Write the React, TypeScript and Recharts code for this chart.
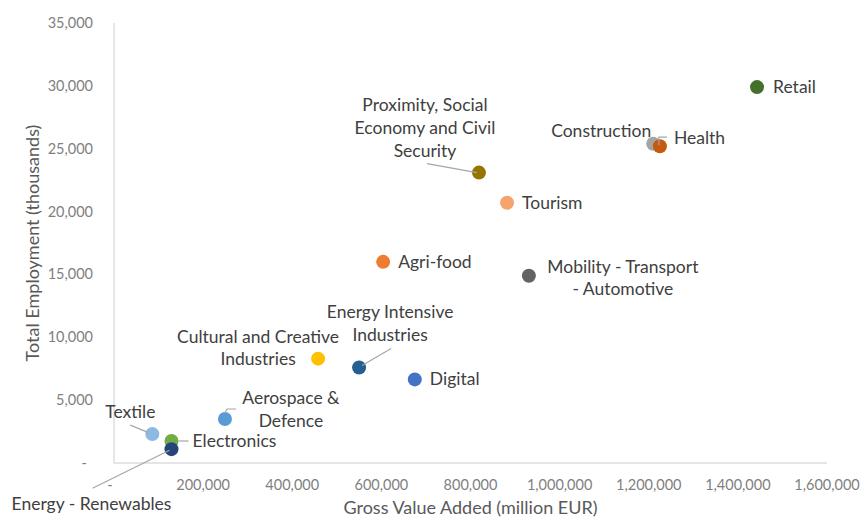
import React from 'react';
import { ScatterChart, Scatter, XAxis, YAxis, Label } from 'recharts';

// drawing order matters: later points sit on top of earlier ones
const sectors = [
  'Retail',
  'Construction',
  'Health',
  'Proximity, Social Economy and Civil Security',
  'Tourism',
  'Agri-food',
  'Mobility - Transport - Automotive',
  'Cultural and Creative Industries',
  'Energy Intensive Industries',
  'Digital',
  'Aerospace & Defence',
  'Textile',
  'Electronics',
  'Energy - Renewables',
];
const gvaMillionEur = [
  1443000, 1210000, 1225000, 819000, 882000, 604000, 931000, 458000, 550000,
  675000, 249000, 86000, 129000, 129000,
];
const employmentThousands = [
  29900, 25400, 25200, 23100, 20700, 16000, 14900, 8300, 7600, 6650, 3500,
  2300, 1750, 1100,
];
const xTicks = [0, 200000, 400000, 600000, 800000, 1000000, 1200000, 1400000, 1600000];
const yTicks = [0, 5000, 10000, 15000, 20000, 25000, 30000, 35000];

const pointColors = [
  '#43702b', '#a5a5a5', '#c55a11', '#997300', '#f4a46c', '#ed7d31', '#636363',
  '#ffc000', '#255e91', '#4472c4', '#5b9bd5', '#8db8e3', '#70ad47', '#264478',
];

type LabelSpec = {
  lines: string[];
  dx: number;
  dy: number[];
  anchor: 'start' | 'middle' | 'end';
  leader?: [number, number][];
};

// label placement relative to each point centre
const labelLayout: Record<string, LabelSpec> = {
  Retail: { lines: ['Retail'], dx: 16, dy: [0], anchor: 'start' },
  Construction: { lines: ['Construction'], dx: -2, dy: [-13], anchor: 'end' },
  Health: {
    lines: ['Health'], dx: 14, dy: [-8], anchor: 'start',
    leader: [[-1, -1], [-1, -9], [7, -9]],
  },
  'Proximity, Social Economy and Civil Security': {
    lines: ['Proximity, Social', 'Economy and Civil', 'Security'],
    dx: -54, dy: [-68, -45, -22], anchor: 'middle',
    leader: [[-52, -9], [-2, 0]],
  },
  Tourism: { lines: ['Tourism'], dx: 15, dy: [0], anchor: 'start' },
  'Agri-food': { lines: ['Agri-food'], dx: 15, dy: [0], anchor: 'start' },
  'Mobility - Transport - Automotive': {
    lines: ['Mobility - Transport', '- Automotive'], dx: 94, dy: [-9, 13], anchor: 'middle',
  },
  'Cultural and Creative Industries': {
    lines: ['Cultural and Creative', 'Industries'], dx: -60, dy: [-22, 0], anchor: 'middle',
  },
  'Energy Intensive Industries': {
    lines: ['Energy Intensive', 'Industries'], dx: 31, dy: [-55, -32], anchor: 'middle',
    leader: [[32, -19], [3, -2]],
  },
  Digital: { lines: ['Digital'], dx: 15, dy: [0], anchor: 'start' },
  'Aerospace & Defence': {
    lines: ['Aerospace &', 'Defence'], dx: 66, dy: [-21, 2], anchor: 'middle',
    leader: [[0, -6], [2, -10], [11, -10]],
  },
  Textile: {
    lines: ['Textile'], dx: -22, dy: [-22], anchor: 'middle',
    leader: [[-22, -9], [-5, -2]],
  },
  Electronics: {
    lines: ['Electronics'], dx: 21, dy: [0], anchor: 'start',
    leader: [[7, 0], [17, 0]],
  },
  'Energy - Renewables': {
    lines: ['Energy - Renewables'], dx: -80, dy: [55], anchor: 'middle',
    leader: [[-2, 1], [-79, 39]],
  },
};

const rows = sectors.map((name, i) => ({
  name,
  gva: gvaMillionEur[i],
  emp: employmentThousands[i],
  color: pointColors[i],
}));

const FONT = 'Lato, "Open Sans", sans-serif';
const fmt = (v: number) => v.toLocaleString('en-US');

const Dot = (props: any) => {
  const { cx, cy, payload } = props;
  return <circle cx={cx} cy={cy} r={7} fill={payload.color} />;
};

const SectorLabel = (props: any) => {
  const { cx, cy, payload } = props;
  const spec = labelLayout[payload.name];
  if (!spec) return <g />;
  return (
    <g>
      {spec.leader && (
        <polyline
          points={spec.leader.map(([dx, dy]) => `${cx + dx},${cy + dy}`).join(' ')}
          fill="none"
          stroke="#a6a6a6"
          strokeWidth={1.2}
        />
      )}
      <text textAnchor={spec.anchor} fontSize={17.5} fill="#404040" fontFamily={FONT}>
        {spec.lines.map((line, i) => (
          <tspan key={i} x={cx + spec.dx} y={cy + spec.dy[i] + 6}>
            {line}
          </tspan>
        ))}
      </text>
    </g>
  );
};

const XTick = (props: any) => {
  const { x, y, payload } = props;
  const v = payload.value as number;
  return (
    <text x={v === 0 ? x - 4 : x} y={y} textAnchor="middle" fontSize={14.5} fill="#7f7f7f" fontFamily={FONT}>
      {v === 0 ? '-' : fmt(v)}
    </text>
  );
};

const YTick = (props: any) => {
  const { x, y, payload } = props;
  const v = payload.value as number;
  return (
    <text x={v === 0 ? x - 6 : x} y={y + 5} textAnchor="end" fontSize={14.5} fill="#7f7f7f" fontFamily={FONT}>
      {v === 0 ? '-' : fmt(v)}
    </text>
  );
};

const XTitle = (props: any) => {
  const { x, y, width, height } = props.viewBox;
  return (
    <text x={x + width / 2} y={y + height + 21} textAnchor="middle" fontSize={18} fill="#595959" fontFamily={FONT}>
      Gross Value Added (million EUR)
    </text>
  );
};

const YTitle = (props: any) => {
  const { y, height } = props.viewBox;
  const cx = 32;
  const cy = y + height / 2;
  return (
    <text
      x={cx}
      y={cy}
      transform={`rotate(-90, ${cx}, ${cy})`}
      textAnchor="middle"
      dominantBaseline="central"
      fontSize={18}
      fill="#595959"
      fontFamily={FONT}
    >
      Total Employment (thousands)
    </text>
  );
};

export default function App() {
  return (
    <div style={{ position: 'absolute', left: 0, top: 0, width: 863, height: 518, background: '#fff' }}>
      <ScatterChart width={863} height={518} margin={{ top: 23, right: 36, bottom: 25, left: 0 }}>
        <XAxis
          type="number"
          dataKey="gva"
          domain={[0, 1600000]}
          ticks={xTicks}
          interval={0}
          height={30}
          tickSize={0}
          tickMargin={27}
          tickLine={false}
          axisLine={{ stroke: '#cccccc' }}
          tick={<XTick />}
        >
          <Label content={<XTitle />} />
        </XAxis>
        <YAxis
          type="number"
          dataKey="emp"
          domain={[0, 35000]}
          ticks={yTicks}
          interval={0}
          width={114}
          tickSize={0}
          tickMargin={21}
          tickLine={false}
          axisLine={{ stroke: '#cccccc' }}
          tick={<YTick />}
        >
          <Label content={<YTitle />} />
        </YAxis>
        <Scatter data={rows} shape={<Dot />} isAnimationActive={false} />
        <Scatter data={rows} shape={<SectorLabel />} isAnimationActive={false} />
      </ScatterChart>
    </div>
  );
}
